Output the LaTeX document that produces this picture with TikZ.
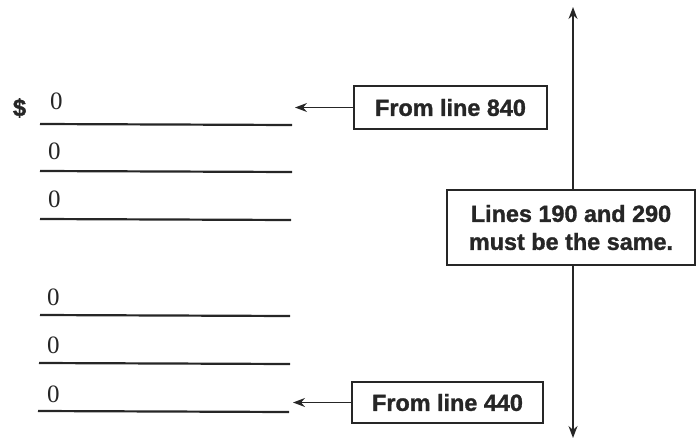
\documentclass[tikz,border=0pt]{standalone}
\usepackage{fontspec}
\setmainfont{Liberation Serif}
\newfontfamily\arialf{Liberation Sans}
\newfontfamily\heavyf{Liberation Sans Bold}[FakeBold=1.3]
\usetikzlibrary{arrows.meta}
\definecolor{ink}{HTML}{262626}
\tikzset{
  rule/.style={draw=ink, line width=2.2pt},
  zero/.style={anchor=base west, inner sep=0pt, font=\fontsize{25}{28}\selectfont, text=ink},
  label box/.style={draw=ink, line width=1.4pt, fill=white, inner sep=0pt, align=center,
    font=\heavyf\fontsize{23.4}{28}\selectfont, text=ink},
  pointer/.style={draw=ink, line width=1.4pt, -{Stealth[length=12pt,width=9pt]}}
}
\begin{document}
\begin{tikzpicture}[x=1pt,y=-1pt]
\useasboundingbox (0,0) rectangle (696,442);
% dollar sign
\node[inner sep=0pt, font=\heavyf\fontsize{24}{26}\selectfont, text=ink] (dollar) at (19.5,108) {\$};
% rules and zeros
\draw[rule] (40,124) -- (292,125);
\draw[rule] (40,171) -- (292,172);
\draw[rule] (40,219) -- (291,220);
\draw[rule] (40,315) -- (290,316);
\draw[rule] (39,363) -- (290,364);
\draw[rule] (38,411) -- (289,412);
\node[zero] (z1) at (50,109) {0};
\node[zero] (z2) at (48,159) {0};
\node[zero] (z3) at (48,207) {0};
\node[zero] (z4) at (47,305) {0};
\node[zero] (z5) at (47,353) {0};
\node[zero] (z6) at (47,402) {0};
% boxes
\node[label box, minimum width=193pt, minimum height=43pt] (b840) at (450.5,107.5) {From line 840};
\node[label box, minimum width=191pt, minimum height=41pt] (b440) at (447.5,402.5) {From line 440};
\node[label box, minimum width=248pt, minimum height=75pt] (same) at (571,227.5) {Lines 190 and 290\\must be the same.};
% coordinates
\coordinate (t840) at (295,107.5);
\coordinate (t440) at (293,402.5);
\coordinate (top) at (573,7);
\coordinate (bot) at (573,438);
% connectors
\draw[pointer] (b840.west) -- (t840);
\draw[pointer] (b440.west) -- (t440);
\draw[pointer] (same.north -| top) -- (top);
\draw[pointer] (same.south -| bot) -- (bot);
\end{tikzpicture}
\end{document}
